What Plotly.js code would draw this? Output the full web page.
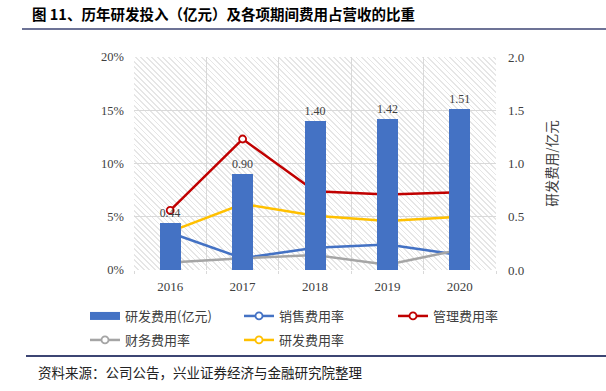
<!DOCTYPE html>
<html><head><meta charset="utf-8">
<script src="https://cdn.plot.ly/plotly-3.0.1.min.js"></script>
<style>
html,body{margin:0;padding:0;background:#fff;}
#wrap{position:relative;width:606px;height:391px;overflow:hidden;}
#hatch{position:absolute;left:134px;top:57px;width:362px;height:213px;
background:repeating-linear-gradient(45deg,#fff 0,#fff 2.7px,#e6e6e6 2.7px,#e6e6e6 3.9px);}
#chart{position:absolute;left:0;top:0;width:606px;height:391px;}
</style></head><body>
<div id="wrap"><div id="hatch"></div><div id="chart"></div></div>
<script>
// ---- data ----
const years = ['2016', '2017', '2018', '2019', '2020'];
const rdExpense = [0.44, 0.90, 1.40, 1.42, 1.51];      // 研发费用 (亿元), right axis
const salesRate = [3.5, 1.1, 2.1, 2.4, 1.4];            // 销售费用率 (%)
const adminRate = [5.6, 12.3, 7.4, 7.1, 7.3];           // 管理费用率 (%)
const financeRate = [0.7, 1.1, 1.4, 0.5, 1.9];          // 财务费用率 (%)
const rdRate = [3.6, 6.2, 5.1, 4.6, 5.0];               // 研发费用率 (%)
const leftTicks = [0, 5, 10, 15, 20];
const leftTickText = ['0%', '5%', '10%', '15%', '20%'];
const rightTicks = [0, 0.5, 1.0, 1.5, 2.0];
const rightTickText = ['0.0', '0.5', '1.0', '1.5', '2.0'];

// ---- styling ----
const W = 606, H = 391;
const M = {l: 134, r: 110, t: 57, b: 121};
const PW = W - M.l - M.r, PH = H - M.t - M.b;
const px = x => (x - M.l) / PW;
const py = y => (H - M.b - y) / PH;
const CJK = 'Noto Sans CJK SC';
const NUM = 'Liberation Serif';
const TXT = '#404040';
const BLUE = '#4472C4', RED = '#C00000', GRAY = '#A5A5A5', GOLD = '#FFC000';

function lineTrace(name, vals, color, legend) {
  return {
    type: 'scatter', mode: 'lines+markers', name: name, x: years, y: vals,
    yaxis: 'y', legend: legend,
    line: {color: color, width: 2.5},
    marker: {symbol: 'circle', size: 7, color: '#ffffff', line: {color: color, width: 1.8}},
    hoverinfo: 'skip'
  };
}

const traces = [
  {
    type: 'bar', name: '研发费用(亿元)', x: years, y: rdExpense, yaxis: 'y2',
    width: 0.29, marker: {color: BLUE}, showlegend: false, legendgroup: 'rd',
    texttemplate: '%{y:.2f}', textposition: 'outside', cliponaxis: false,
    textfont: {family: NUM, size: 13, color: TXT}, hoverinfo: 'skip'
  },
  {
    type: 'scatter', mode: 'lines', name: '研发费用(亿元)', x: [null], y: [null],
    yaxis: 'y2', legendgroup: 'rd', legend: 'legend',
    line: {color: BLUE, width: 8}, hoverinfo: 'skip'
  },
  lineTrace('销售费用率', salesRate, BLUE, 'legend'),
  lineTrace('管理费用率', adminRate, RED, 'legend'),
  lineTrace('财务费用率', financeRate, GRAY, 'legend2'),
  lineTrace('研发费用率', rdRate, GOLD, 'legend2')
];

const legendCommon = {
  orientation: 'h', xref: 'paper', yref: 'paper',
  xanchor: 'left', yanchor: 'middle',
  entrywidth: 109, entrywidthmode: 'pixels',
  bgcolor: 'rgba(0,0,0,0)', borderwidth: 0,
  font: {family: CJK, size: 13, color: TXT}
};

const layout = {
  width: W, height: H,
  margin: M,
  paper_bgcolor: 'rgba(0,0,0,0)',
  plot_bgcolor: 'rgba(0,0,0,0)',
  showlegend: true,
  bargap: 0,
  title: {
    text: '图 11、历年研发投入（亿元）及各项期间费用占营收的比重',
    xref: 'container', x: 32 / W, xanchor: 'left',
    yref: 'container', y: 1 - 15 / H, yanchor: 'middle',
    font: {family: CJK, size: 14.5, weight: 'bold', color: '#000'}
  },
  xaxis: {
    type: 'category', range: [-0.5, 4.5], tickson: 'boundaries',
    showgrid: true, gridcolor: '#d9d9d9', gridwidth: 1,
    ticks: 'outside', ticklen: 3, tickcolor: '#d9d9d9',
    ticklabelstandoff: 7,
    showline: false, zeroline: false,
    tickfont: {family: NUM, size: 13, color: TXT},
    fixedrange: true
  },
  yaxis: {
    range: [0, 20], tickmode: 'array', tickvals: leftTicks, ticktext: leftTickText,
    showgrid: true, gridcolor: '#d9d9d9', gridwidth: 1,
    zeroline: false, showline: false, ticks: '',
    ticklabelstandoff: 9,
    tickfont: {family: NUM, size: 12.5, color: TXT},
    fixedrange: true
  },
  yaxis2: {
    overlaying: 'y', side: 'right', range: [0, 2],
    tickmode: 'array', tickvals: rightTicks, ticktext: rightTickText,
    showgrid: false, zeroline: false, showline: false, ticks: '',
    ticklabelstandoff: 11,
    tickfont: {family: NUM, size: 13, color: TXT},
    title: {text: '研发费用/亿元', standoff: 24,
            font: {family: CJK, size: 13.5, color: TXT}},
    fixedrange: true
  },
  legend: Object.assign({x: px(85), y: py(316)}, legendCommon),
  legend2: Object.assign({x: px(85), y: py(340)}, legendCommon),
  shapes: [
    {type: 'line', xref: 'paper', yref: 'paper', x0: px(22), x1: px(606), y0: py(29), y1: py(29),
     line: {color: '#3C4573', width: 1.5}},
    {type: 'line', xref: 'paper', yref: 'paper', x0: px(26), x1: px(606), y0: py(356), y1: py(356),
     line: {color: '#3C4573', width: 2}}
  ],
  annotations: [
    {text: '资料来源：公司公告，兴业证券经济与金融研究院整理', showarrow: false,
     xref: 'paper', yref: 'paper', x: px(36), y: py(372), xanchor: 'left', yanchor: 'middle',
     font: {family: CJK, size: 13.5, color: '#222'}}
  ]
};

Plotly.newPlot('chart', traces, layout, {staticPlot: true, displayModeBar: false});
</script>
</body></html>
